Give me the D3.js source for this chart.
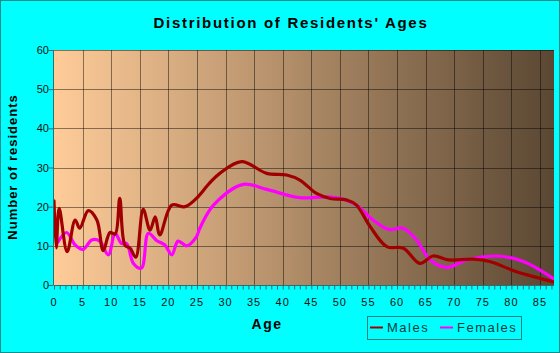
<!DOCTYPE html>
<html>
<head>
<meta charset="utf-8">
<script src="https://cdn.jsdelivr.net/npm/d3@7"></script>
<style>
  html, body { margin: 0; padding: 0; background: #00ffff; }
  svg { display: block; }
</style>
</head>
<body>
<div id="chart"></div>
<script>
  // Values
  const maleAges = [0, 0.4, 0.9, 2.3, 3.7, 4.5, 6.0, 7.5, 8.6, 9.8, 10.7, 11.5, 12.4, 13.3, 14.3, 15.6, 16.8, 17.7, 18.5, 20.6, 22.9, 24.9, 27.2, 29, 32.8, 37.2, 40.7, 43, 45.9, 48.3, 51.2, 52.9, 55.3, 58.2, 61.1, 64, 66.3, 69, 73.3, 76.2, 80.9, 87.5];
  const maleValues = [21.5, 9.5, 19.6, 8.5, 16.6, 14.5, 19.0, 16.6, 8.8, 13.4, 13.0, 22.1, 10.2, 9.4, 7.1, 19.3, 14, 17.4, 12.8, 20.4, 20, 22.1, 26, 28.5, 31.5, 28.5, 28.1, 26.8, 23.4, 22.1, 21.7, 20.4, 14.9, 9.8, 9.4, 5.5, 7.4, 6.4, 6.6, 6, 3.4, 0.8];
  const femaleAges = [0.7, 2.2, 3.7, 5.1, 6.6, 8.0, 9.5, 10.7, 11.8, 12.7, 13.9, 15.3, 16.5, 18, 19.4, 20.6, 21.7, 23.2, 24.9, 25.5, 27.9, 33.1, 37.2, 43, 47.7, 50.6, 52.9, 55.8, 58.5, 61.1, 63.4, 65.8, 68.7, 72.2, 77.4, 82.1, 87.5];
  const femaleValues = [11.0, 13.4, 10.2, 9.1, 11.5, 11.2, 7.7, 13.2, 10.6, 10.6, 5.5, 4.3, 13.2, 11.3, 10.2, 7.7, 11.2, 10, 12.3, 14.5, 20.4, 25.7, 24.4, 22.3, 22.5, 21.9, 20.4, 16.6, 14.2, 14.5, 11.5, 6.4, 4.5, 6.4, 7.4, 6, 1.5];
  const xTicks = [0, 5, 10, 15, 20, 25, 30, 35, 40, 45, 50, 55, 60, 65, 70, 75, 80, 85];
  const yTicks = [0, 10, 20, 30, 40, 50, 60];
  const seriesNames = ["Males", "Females"];
  const seriesColors = ["#a00000", "#ff00ff"];

  const W = 560, H = 353;
  const FONT = "'Liberation Sans', Arial, sans-serif";
  const plot = { left: 54, top: 50, right: 554, bottom: 285 };

  const svg = d3.select("#chart").append("svg").attr("width", W).attr("height", H);

  // cyan background with a thin teal frame
  svg.append("rect").attr("x", 0.5).attr("y", 0.5).attr("width", W - 1).attr("height", H - 1)
    .attr("fill", "#00ffff").attr("stroke", "#1a8c8c");

  const x = d3.scaleLinear().domain([0, 87.45]).range([plot.left, plot.right]);
  const y = d3.scaleLinear().domain([0, 60]).range([plot.bottom, plot.top]);

  // plot background gradient
  const defs = svg.append("defs");
  const grad = defs.append("linearGradient").attr("id", "bg-grad");
  grad.append("stop").attr("offset", "0%").attr("stop-color", "#ffcc99");
  grad.append("stop").attr("offset", "100%").attr("stop-color", "#5a4733");
  defs.append("clipPath").attr("id", "plot-clip").append("rect")
    .attr("x", plot.left).attr("y", plot.top)
    .attr("width", plot.right - plot.left).attr("height", plot.bottom - plot.top);

  svg.append("rect").attr("x", plot.left).attr("y", plot.top)
    .attr("width", plot.right - plot.left).attr("height", plot.bottom - plot.top)
    .attr("fill", "url(#bg-grad)");

  // grid
  const grid = svg.append("g").attr("stroke", "#000").attr("stroke-opacity", 0.45).attr("stroke-width", 1);
  yTicks.filter(d => d > 0).forEach(d => {
    grid.append("line").attr("x1", plot.left).attr("x2", plot.right)
      .attr("y1", Math.round(y(d)) + 0.5).attr("y2", Math.round(y(d)) + 0.5);
  });
  xTicks.filter(d => d > 0).forEach(d => {
    grid.append("line").attr("y1", plot.top).attr("y2", plot.bottom)
      .attr("x1", Math.round(x(d)) + 0.5).attr("x2", Math.round(x(d)) + 0.5);
  });

  // lines
  const line = d3.line().x(d => x(d[0])).y(d => y(d[1])).curve(d3.curveCatmullRom.alpha(0.5));
  const series = [
    d3.zip(maleAges, maleValues),
    d3.zip(femaleAges, femaleValues)
  ];
  const lines = svg.append("g").attr("clip-path", "url(#plot-clip)");
  [1, 0].forEach(i => {
    lines.append("path").attr("d", line(series[i])).attr("fill", "none")
      .attr("stroke", seriesColors[i]).attr("stroke-width", 3.2)
      .attr("stroke-linejoin", "round").attr("stroke-linecap", "round");
  });

  // axes
  const AXIS = "#2f6f6f";
  const xAxis = svg.append("g").attr("transform", `translate(0,${plot.bottom + 0.5})`)
    .call(d3.axisBottom(x).tickValues(d3.range(0, 88, 1)).tickSize(4).tickFormat(""));
  xAxis.select(".domain").attr("stroke", AXIS).attr("d", `M${plot.left},0H${plot.right}`);
  xAxis.selectAll(".tick line").attr("stroke", AXIS);
  svg.append("g").attr("transform", `translate(0,${plot.bottom})`)
    .selectAll("text").data(xTicks).join("text")
    .attr("x", d => x(d)).attr("y", 21)
    .attr("text-anchor", "middle").attr("font-family", FONT).attr("font-size", 11)
    .attr("letter-spacing", 1).attr("fill", "#111").text(d => d);

  const yAxis = svg.append("g").attr("transform", `translate(${plot.left - 0.5},0)`)
    .call(d3.axisLeft(y).tickValues(yTicks).tickSize(5).tickFormat(""));
  yAxis.select(".domain").attr("stroke", AXIS).attr("d", `M0,${plot.top}V${plot.bottom}`);
  yAxis.selectAll(".tick line").attr("stroke", AXIS);
  svg.append("g").selectAll("text").data(yTicks).join("text")
    .attr("x", plot.left - 5).attr("y", d => y(d) + 4)
    .attr("text-anchor", "end").attr("font-family", FONT).attr("font-size", 11)
    .attr("fill", "#111").text(d => d);

  // titles
  svg.append("text").attr("x", 291).attr("y", 28).attr("text-anchor", "middle")
    .attr("font-family", FONT).attr("font-size", 15).attr("font-weight", "bold")
    .attr("letter-spacing", 1.7).attr("fill", "#000").text("Distribution of Residents' Ages");
  svg.append("text").attr("x", 267).attr("y", 329).attr("text-anchor", "middle")
    .attr("font-family", FONT).attr("font-size", 14).attr("font-weight", "bold")
    .attr("letter-spacing", 1.5).attr("fill", "#000").text("Age");
  svg.append("text").attr("transform", "translate(17,167) rotate(-90)").attr("text-anchor", "middle")
    .attr("font-family", FONT).attr("font-size", 13).attr("font-weight", "bold")
    .attr("letter-spacing", 1).attr("fill", "#000").text("Number of residents");

  // legend
  const legend = svg.append("g");
  legend.append("rect").attr("x", 367.5).attr("y", 316.5).attr("width", 154).attr("height", 23)
    .attr("fill", "none").attr("stroke", "#1a7f7f");
  const legendX = [370, 440];
  seriesNames.forEach((name, i) => {
    legend.append("line").attr("x1", legendX[i]).attr("x2", legendX[i] + 13)
      .attr("y1", 327.5).attr("y2", 327.5).attr("stroke", seriesColors[i]).attr("stroke-width", 2);
    legend.append("text").attr("x", legendX[i] + 17).attr("y", 332)
      .attr("font-family", FONT).attr("font-size", 13).attr("letter-spacing", 1.5)
      .attr("fill", "#0b3b3b").text(name);
  });
</script>
</body>
</html>
